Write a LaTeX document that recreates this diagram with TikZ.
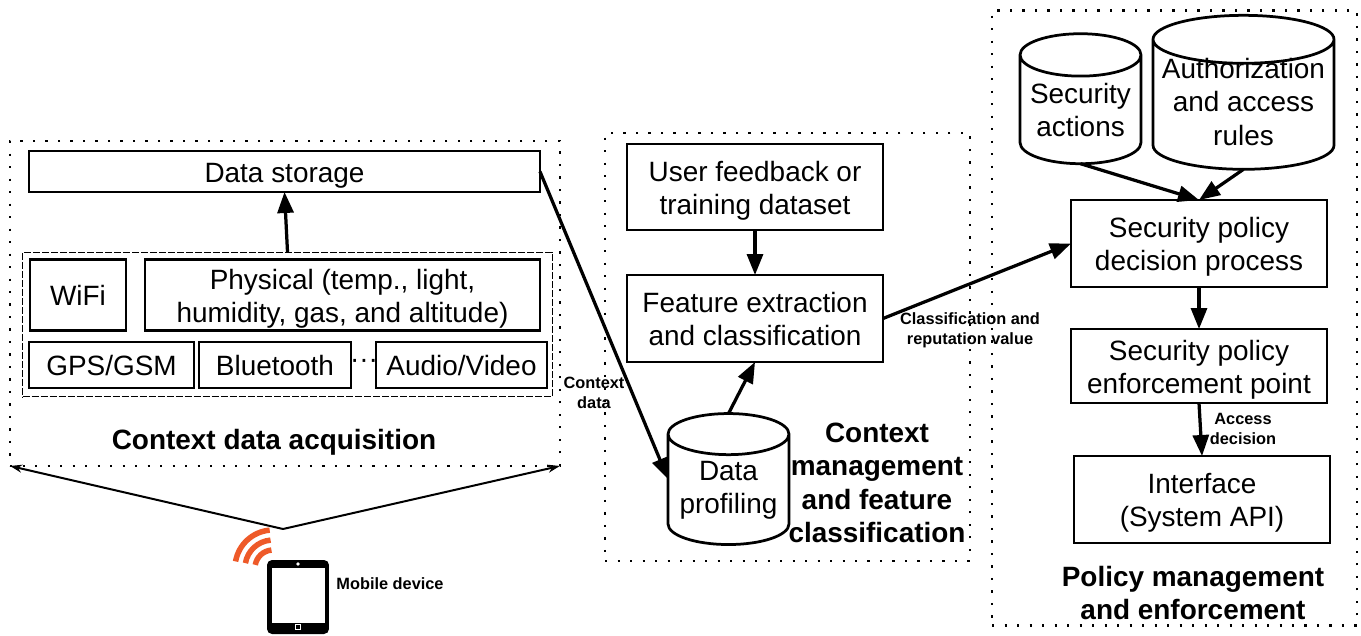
\documentclass[tikz,border=0pt]{standalone}
\usepackage{fontspec}
\setmainfont{Liberation Sans}
\usetikzlibrary{arrows.meta,shapes.geometric}
\newcommand{\lift}{\rule{0pt}{15.6pt}}
\tikzset{
    box/.style = {draw, line width = 0.055cm, align = center, inner sep = 0pt, outer sep = 0pt,
        font = \fontsize{15.9}{18.8}\selectfont},
    panel/.style = {box, execute at begin node = {\rule[-3.5pt]{0pt}{19.5pt}}},
    cyl/.style = {box, cylinder, shape border rotate = 90, aspect = 0.42},
    flow/.style = {line width = 0.065cm, -{Triangle[length = 0.42cm, width = 0.32cm]}},
    zone/.style = {draw, line width = 0.045cm, dash pattern = on 0.045cm off 0.205cm, inner sep = 0pt, outer sep = 0pt},
    title/.style = {align = center, font = \fontsize{15.9}{19}\selectfont\bfseries},
    tag/.style = {align = center, font = \fontsize{9.3}{11.1}\selectfont\bfseries}
}
\begin{document}
\begin{tikzpicture}[x = 0.02cm, y = -0.02cm]
                \useasboundingbox (0,0) rectangle (1361,635);
                \node[zone, minimum width = 11cm, minimum height = 6.5cm] (acq) at (285,303.5) {};
                \node[zone, minimum width = 7.3cm, minimum height = 8.56cm] (mgmt) at (787.5,347) {};
                \node[zone, minimum width = 7.3cm, minimum height = 12.3cm] (policy) at (1174.5,318) {};
                \node[draw, line width = 0.02cm, dash pattern = on 0.14cm off 0.04cm, minimum width = 10.6cm, minimum height = 2.9cm, outer sep = 0pt] (sensors) at (287.5,324.5) {};
                \node[panel, minimum width = 10.22cm, minimum height = 0.82cm] (storage) at (284.5,171.5) {Data storage};
                \node[panel, minimum width = 1.92cm, minimum height = 1.42cm] (wifi) at (78,295) {WiFi};
                \node[panel, minimum width = 7.9cm, minimum height = 1.42cm] (physical) at (342.5,295) {\lift Physical (temp., light,\\humidity, gas, and altitude)};
                \node[panel, minimum width = 3.3cm, minimum height = 0.92cm] (gps) at (111.5,365) {GPS/GSM};
                \node[panel, minimum width = 3.04cm, minimum height = 0.92cm] (bluetooth) at (275,365) {Bluetooth};
                \node[panel, minimum width = 3.42cm, minimum height = 0.92cm] (audio) at (461.5,365) {Audio/Video};
                \node[font = \fontsize{15.9}{18.8}\selectfont, inner sep = 0pt] (more) at (364,364) {···};
                \node[title] (acqlabel) at (274,442) {Context data acquisition};
                \node[panel, minimum width = 5.12cm, minimum height = 1.72cm] (feedback) at (755,187) {\lift User feedback or\\training dataset};
                \node[panel, minimum width = 5.12cm, minimum height = 1.74cm] (feature) at (755,318.5) {\lift Feature extraction\\and classification};
                \node[cyl, minimum width = 2.42cm, minimum height = 2.62cm] (profiling) at (728.5,490) {Data\\profiling};
                \node[title] (mgmtlabel) at (877,483) {Context\\management\\and feature\\classification};
                \node[cyl, minimum width = 2.42cm, minimum height = 2.6cm] (actions) at (1080.5,110) {Security\\actions};
                \node[cyl, minimum width = 3.62cm, minimum height = 3.08cm, label = {[align = center, font = \fontsize{15.9}{18.8}\selectfont, yshift = 0.06cm]center:Authorization\\and access\\rules}] (rules) at (1243.5,105) {\hspace*{65pt}};
                \node[panel, minimum width = 5.12cm, minimum height = 1.74cm] (decision) at (1199,243.5) {\lift Security policy\\decision process};
                \node[panel, minimum width = 5.12cm, minimum height = 1.48cm] (enforce) at (1199,366) {\lift Security policy\\enforcement point};
                \node[panel, minimum width = 5.12cm, minimum height = 1.74cm] (interface) at (1202,499.5) {\lift Interface\\(System API)};
                \node[title] (policylabel) at (1193,593) {Policy management\\and enforcement};
                \node[tag] (contextdata) at (594,393) {Context\\data};
                \node[tag] (reputation) at (970,330.5) {Classification and\\reputation value};
                \node[tag] (access) at (1243,429) {Access\\decision};
                \node[tag] (mobile) at (390,584) {Mobile device};
                \draw[flow] (sensors.north) -- (storage.south);
                \draw[flow] (storage.east) -- ([yshift = 0.22cm]profiling.west);
                \draw[flow] (feedback.south) -- (feature.north);
                \draw[flow] (profiling.north) -- (feature.south);
                \draw[flow] (feature.east) -- (decision.west);
                \draw[flow] (actions.south) -- (decision.north);
                \draw[flow] (rules.south) -- (decision.north);
                \draw[flow] (decision.south) -- (enforce.north);
                \draw[flow] (enforce.south) -- (interface.north);
                \coordinate (apex) at (283,529);
                \draw[line width = 0.04cm, -{Stealth[length = 0.24cm, width = 0.16cm]}] (apex) -- (acq.south west);
                \draw[line width = 0.04cm, -{Stealth[length = 0.24cm, width = 0.16cm]}] (apex) -- (acq.south east);
                \foreach \r in {18,28,38}
                    \draw[line width = 0.11cm, color = {rgb,255:red,238;green,90;blue,41}] (273,568) ++(-95:\r) arc[start angle = -95, end angle = -170, radius = \r];
                \node[fill = black, rounded corners = 0.1cm, minimum width = 1.24cm, minimum height = 1.48cm, inner sep = 0pt] (tablet) at (298,597) {};
                \node[fill = white, minimum width = 1.06cm, minimum height = 1.1cm, inner sep = 0pt] (screen) at (298.5,595.5) {};
                \fill[white] (298,564) circle (1.8);
                \draw[white, line width = 0.03cm] (295.5,624.5) rectangle (300.5,629.5);
            \end{tikzpicture}
\end{document}
